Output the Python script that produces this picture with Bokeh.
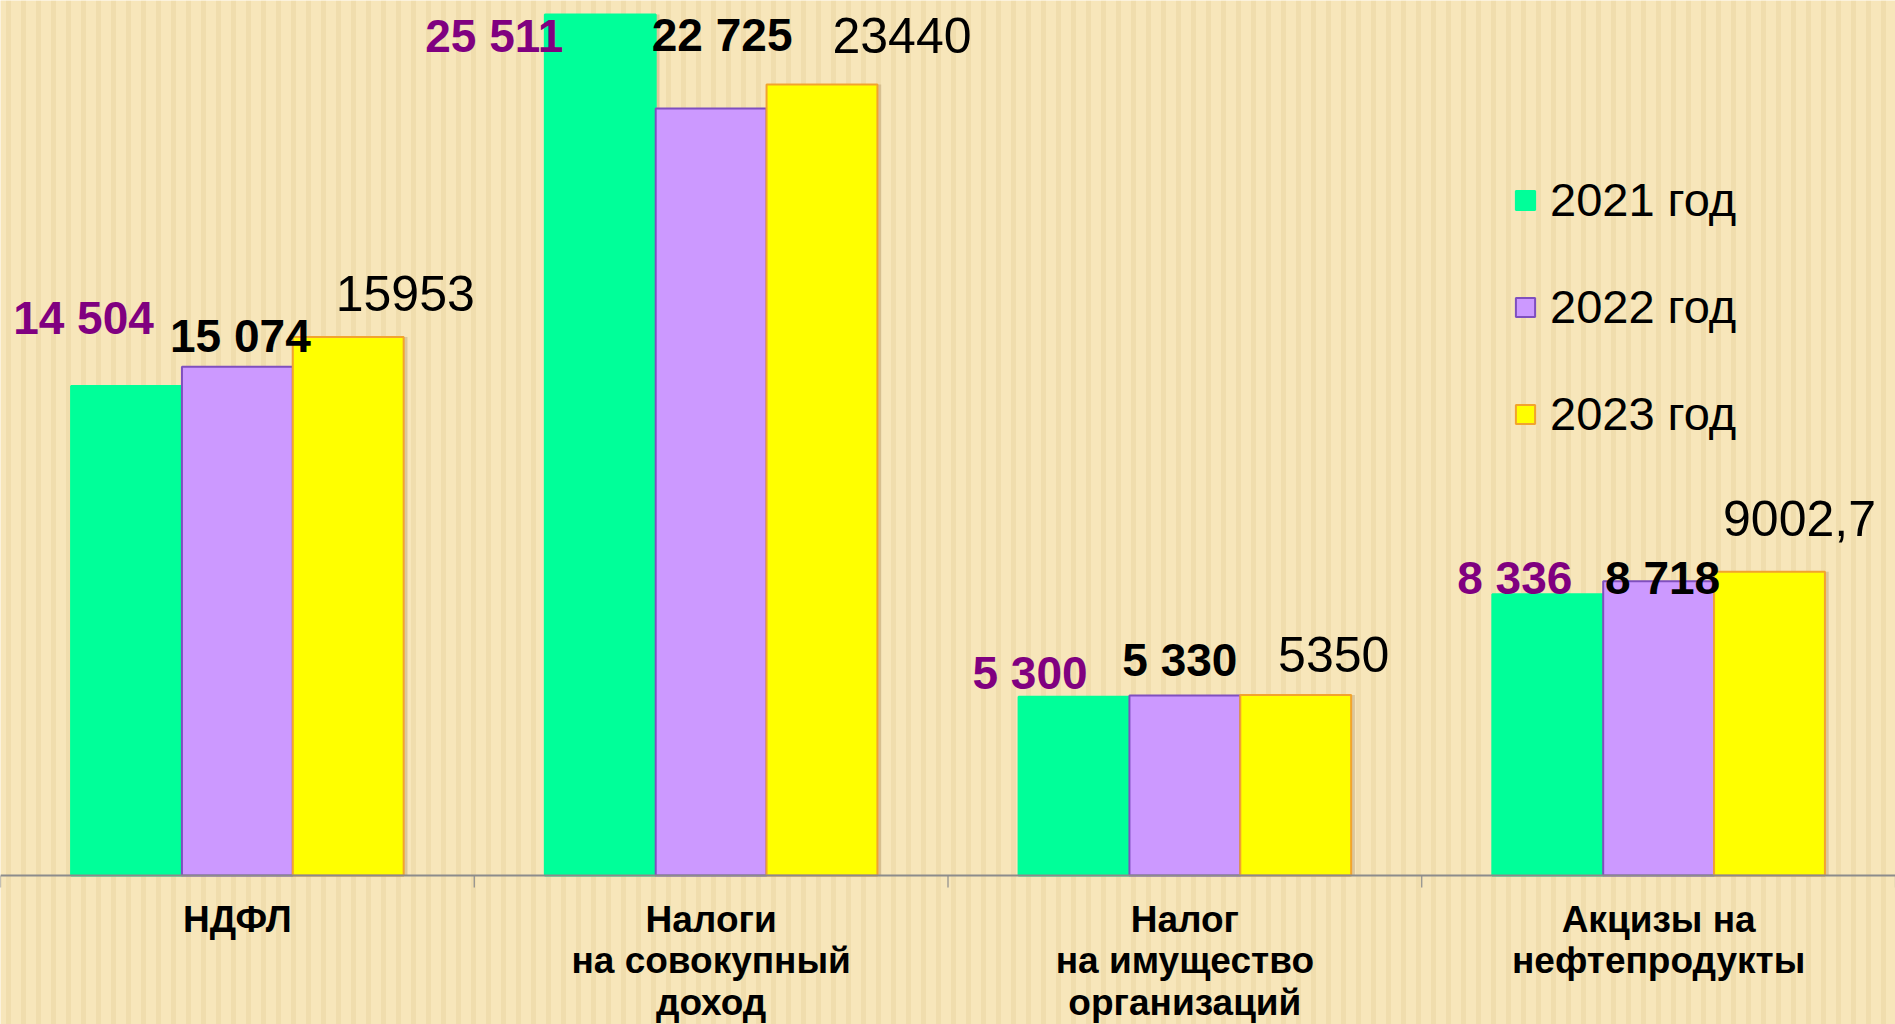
from bokeh.plotting import figure
from bokeh.models import (ColumnDataSource, FactorRange, Range1d, Span, Legend, LegendItem)
from bokeh.transform import dodge
from bokeh.core.properties import value
from bokeh.embed import file_html
from bokeh.resources import INLINE

# ---- data ----
categories = ["НДФЛ", "Налоги\nна совокупный\nдоход", "Налог\nна имущество\nорганизаций",
              "Акцизы на\nнефтепродукты"]
series_names = ["2021 год", "2022 год", "2023 год"]
v2021 = [14504, 25511, 5300, 8336]
v2022 = [15074, 22725, 5330, 8718]
v2023 = [15953, 23440, 5350, 9002.7]
lab2021 = ["14 504", "25 511", "5 300", "8 336"]
lab2022 = ["15 074", "22 725", "5 330", "8 718"]
lab2023 = ["15953", "23440", "5350", "9002,7"]

# label placement (screen px offsets from bar top centre) - style only
dx2021 = [-43, -106, -44, -33]
dy2021 = [-68, 21, -24, -16]
dx2022 = [3, 11, -5, 4]
dy2022 = [-31, -74, -36, -3]
dx2023 = [57, 80, 38, 30]
dy2023 = [-44, -49, -40, -53]

FONT = "Liberation Sans"
BG = "#F7E6BA"

WID = 1895
H = 1024
BASE_PX = 875           # baseline position from frame top
K = 0.03375             # px per unit
y_end = BASE_PX / K
y_start = -(H - BASE_PX) / K
tick_len = 12 / K

src = ColumnDataSource(dict(cat=categories, v2021=v2021, v2022=v2022, v2023=v2023,
                            l2021=lab2021, l2022=lab2022, l2023=lab2023,
                            dx2021=dx2021, dy2021=dy2021, dx2022=dx2022, dy2022=dy2022,
                            dx2023=dx2023, dy2023=dy2023))

p = figure(x_range=FactorRange(*categories, range_padding=0), y_range=Range1d(y_start, y_end),
           width=WID, height=H, output_backend="svg", toolbar_location=None,
           x_axis_location=None, y_axis_location=None,
           min_border=0)
p.background_fill_color = BG
p.border_fill_color = BG
p.outline_line_color = None
p.xgrid.visible = False
p.ygrid.visible = False

# striped backdrop texture
p.quad(left=[0], right=[len(categories)], bottom=[y_start], top=[y_end],
       fill_color=None, line_color=None,
       hatch_pattern="|", hatch_color="#E6CF98", hatch_alpha=0.4, hatch_scale=15, hatch_weight=5)

W = 0.234
colors = ["#00FF99", "#CC99FF", "#FFFF00"]
lines = ["#00FF99", "#7F4FBF", "#F2A32E"]
keys = ["v2021", "v2022", "v2023"]
offs = [-W, 0, W]
rends = []
for k, c, lc, o in zip(keys, colors, lines, offs):
    # soft shadow
    p.vbar(x=dodge("cat", o + 0.008, range=p.x_range), top=k, width=W, bottom=0, source=src,
           fill_color="#8a6a3a", fill_alpha=0.25, line_color=None)
for k, c, lc, o in zip(keys, colors, lines, offs):
    r = p.vbar(x=dodge("cat", o, range=p.x_range), top=k, width=W, bottom=0, source=src,
               fill_color=c, line_color=lc, line_width=2)
    rends.append(r)

# data labels
p.text(x=dodge("cat", -W, range=p.x_range), y="v2021", text="l2021", source=src,
       x_offset="dx2021", y_offset="dy2021", text_align="center", text_baseline="middle",
       text_font=value(FONT), text_font_size="46px", text_font_style="bold", text_color="#800080")
p.text(x=dodge("cat", 0, range=p.x_range), y="v2022", text="l2022", source=src,
       x_offset="dx2022", y_offset="dy2022", text_align="center", text_baseline="middle",
       text_font=value(FONT), text_font_size="46px", text_font_style="bold", text_color="black")
p.text(x=dodge("cat", W, range=p.x_range), y="v2023", text="l2023", source=src,
       x_offset="dx2023", y_offset="dy2023", text_align="center", text_baseline="middle",
       text_font=value(FONT), text_font_size="50px", text_font_style="normal", text_color="black")

# category axis: baseline, boundary ticks, labels
p.add_layout(Span(location=0, dimension="width", line_color="#8c8c8c", line_width=2))
bounds = list(range(len(categories) + 1))
p.segment(x0=bounds, y0=[0] * len(bounds), x1=bounds, y1=[-tick_len] * len(bounds),
          line_color="#8c8c8c", line_width=1.2)
p.text(x="cat", y=0, text="cat", source=src, y_offset=23,
       text_align="center", text_baseline="top", text_line_height=1.02,
       text_font=value(FONT), text_font_size="37px", text_font_style="bold", text_color="black")

legend = Legend(items=[LegendItem(label=n, renderers=[r]) for n, r in zip(series_names, rends)],
                location=(1513, 583), orientation="vertical",
                glyph_width=24, glyph_height=24, label_standoff=13, label_height=50,
                label_text_font=FONT, label_text_font_size="47px", label_text_color="black",
                label_text_baseline="middle",
                spacing=52, padding=0, margin=0,
                border_line_color=None, background_fill_alpha=0)
p.add_layout(legend, "center")

open("out.html", "w").write(file_html(p, INLINE))
